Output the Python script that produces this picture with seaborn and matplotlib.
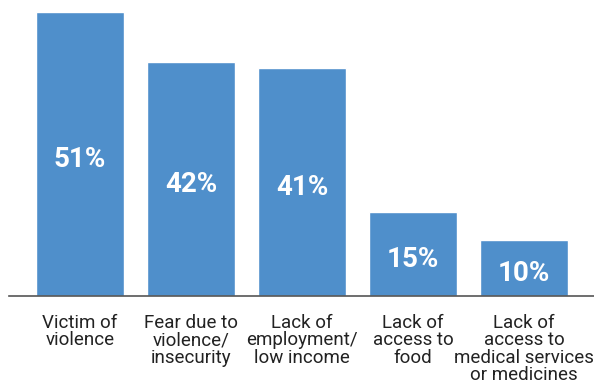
import matplotlib
matplotlib.use("Agg")
import matplotlib.pyplot as plt
import seaborn as sns
import pandas as pd

categories = ["Victim of\nviolence", "Fear due to\nviolence/\ninsecurity",
              "Lack of\nemployment/\nlow income", "Lack of\naccess to\nfood",
              "Lack of\naccess to\nmedical services\nor medicines"]
values = [51, 42, 41, 15, 10]
labels = ["51%", "42%", "41%", "15%", "10%"]

df = pd.DataFrame({"cat": categories, "val": values})

sns.set_style("white")
plt.rcParams["font.family"] = ["Roboto", "DejaVu Sans"]

W, H = 594, 388
fig = plt.figure(figsize=(W / 100, H / 100), dpi=100)
ax = fig.add_axes([9 / W, (H - 296) / H, (W - 9) / W, (296 - 12) / H])

sns.barplot(data=df, x="cat", y="val", color="#4F8FCB", saturation=1,
            width=0.8, ax=ax)
ax.set_xlim(-0.64, 4.63)
ax.set_ylim(0, 51)

for i, (v, t) in enumerate(zip(values, labels)):
    ax.annotate(t, (i, v / 2), xytext=(0, -4), textcoords="offset points",
                ha="center", va="center", color="white",
                fontsize=20, fontweight="bold")

for s in ["top", "right", "left"]:
    ax.spines[s].set_visible(False)
ax.spines["bottom"].set_color("#555555")
ax.spines["bottom"].set_linewidth(1.2)
ax.set_yticks([])
ax.set_xlabel("")
ax.set_ylabel("")
ax.tick_params(axis="x", length=0, pad=13, labelsize=13.5, labelcolor="#222222")
for lbl in ax.get_xticklabels():
    lbl.set_linespacing(0.95)
    lbl.set_va("top")

fig.savefig("out.png", dpi=100)
